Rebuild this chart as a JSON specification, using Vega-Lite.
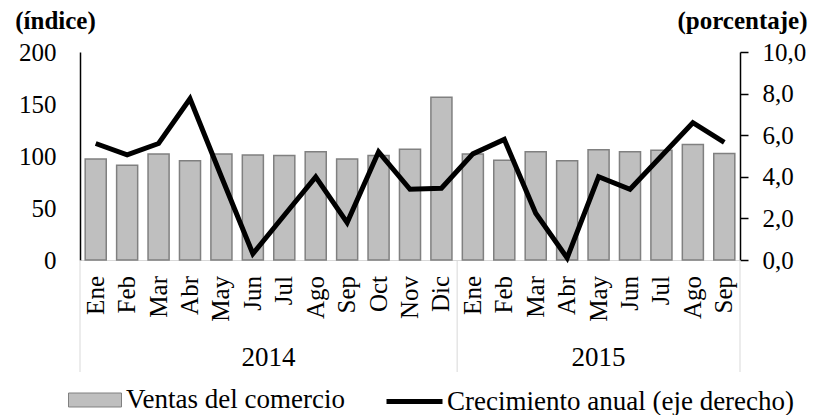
{
  "$schema": "https://vega.github.io/schema/vega-lite/v6.json",
  "background": "white",
  "padding": {"left": 14, "top": 8, "right": 0, "bottom": 0},
  "config": {
    "font": "Liberation Serif",
    "view": {"stroke": null},
    "axis": {"grid": false, "labelFont": "Liberation Serif", "titleFont": "Liberation Serif", "labelColor": "#000000", "titleColor": "#000000"},
    "legend": {"labelFont": "Liberation Serif", "labelColor": "#000000", "labelLimit": 0},
    "text": {"font": "Liberation Serif", "color": "#000000"}
  },
  "datasets": {
    "meses": [
      {"clave": "2014-01", "mes": "Ene", "anio": "2014", "ventas": 97, "crecimiento": 5.6},
      {"clave": "2014-02", "mes": "Feb", "anio": "2014", "ventas": 91, "crecimiento": 5.05},
      {"clave": "2014-03", "mes": "Mar", "anio": "2014", "ventas": 102, "crecimiento": 5.6},
      {"clave": "2014-04", "mes": "Abr", "anio": "2014", "ventas": 95.5, "crecimiento": 7.75},
      {"clave": "2014-05", "mes": "May", "anio": "2014", "ventas": 102, "crecimiento": 4.0},
      {"clave": "2014-06", "mes": "Jun", "anio": "2014", "ventas": 101, "crecimiento": 0.3},
      {"clave": "2014-07", "mes": "Jul", "anio": "2014", "ventas": 100.5, "crecimiento": 2.15},
      {"clave": "2014-08", "mes": "Ago", "anio": "2014", "ventas": 104, "crecimiento": 4.0},
      {"clave": "2014-09", "mes": "Sep", "anio": "2014", "ventas": 97, "crecimiento": 1.8},
      {"clave": "2014-10", "mes": "Oct", "anio": "2014", "ventas": 100.5, "crecimiento": 5.2},
      {"clave": "2014-11", "mes": "Nov", "anio": "2014", "ventas": 106.5, "crecimiento": 3.4},
      {"clave": "2014-12", "mes": "Dic", "anio": "2014", "ventas": 156.5, "crecimiento": 3.45},
      {"clave": "2015-01", "mes": "Ene", "anio": "2015", "ventas": 102, "crecimiento": 5.1},
      {"clave": "2015-02", "mes": "Feb", "anio": "2015", "ventas": 96, "crecimiento": 5.8},
      {"clave": "2015-03", "mes": "Mar", "anio": "2015", "ventas": 104, "crecimiento": 2.25},
      {"clave": "2015-04", "mes": "Abr", "anio": "2015", "ventas": 95.5, "crecimiento": 0.1},
      {"clave": "2015-05", "mes": "May", "anio": "2015", "ventas": 106, "crecimiento": 4.0},
      {"clave": "2015-06", "mes": "Jun", "anio": "2015", "ventas": 104, "crecimiento": 3.4},
      {"clave": "2015-07", "mes": "Jul", "anio": "2015", "ventas": 105.5, "crecimiento": 5.0},
      {"clave": "2015-08", "mes": "Ago", "anio": "2015", "ventas": 111, "crecimiento": 6.6},
      {"clave": "2015-09", "mes": "Sep", "anio": "2015", "ventas": 102.5, "crecimiento": 5.65}
    ]
  },
  "spacing": 0,
  "bounds": "flush",
  "resolve": {"scale": {"x": "independent"}},
  "vconcat": [
    {
      "width": 660,
      "height": 208,
      "data": {"name": "meses"},
      "encoding": {
        "x": {
          "field": "clave", "type": "ordinal",
          "scale": {"paddingInner": 0.33, "paddingOuter": 0.165},
          "axis": {"labels": false, "ticks": false, "title": null, "domainColor": "#d9d9d9", "domainWidth": 1}
        }
      },
      "layer": [
        {
          "mark": {"type": "bar", "stroke": "#808080", "strokeWidth": 1.5},
          "encoding": {
            "y": {
              "field": "ventas", "type": "quantitative",
              "scale": {"domain": [0, 200], "nice": false},
              "axis": {
                "title": "(índice)", "titleAngle": 0, "titleX": -25, "titleY": -24,
                "titleAlign": "center", "titleBaseline": "alphabetic",
                "titleFontWeight": "bold", "titleFontSize": 25,
                "values": [0, 50, 100, 150, 200], "ticks": false, "labelPadding": 24,
                "labelFontSize": 25, "domainColor": "#000000", "domainWidth": 1.5
              }
            },
            "fill": {
              "datum": "Ventas del comercio",
              "scale": {"range": ["#bfbfbf"]},
              "legend": {
                "orient": "none", "legendX": -12, "legendY": 321, "title": null,
                "symbolType": "M-1,-0.264H1V0.264H-1Z", "symbolSize": 2809,
                "symbolStrokeColor": "#808080", "symbolStrokeWidth": 1,
                "labelFont": "Liberation Serif", "labelFontSize": 27, "labelOffset": 4, "labelLimit": 0
              }
            }
          }
        },
        {
          "mark": {"type": "line", "strokeWidth": 5, "strokeJoin": "miter"},
          "encoding": {
            "y": {
              "field": "crecimiento", "type": "quantitative",
              "scale": {"domain": [0, 10], "nice": false},
              "axis": {
                "orient": "right",
                "title": "(porcentaje)", "titleAngle": 0, "titleX": 2, "titleY": -24,
                "titleAlign": "center", "titleBaseline": "alphabetic",
                "titleFontWeight": "bold", "titleFontSize": 25,
                "values": [0, 2, 4, 6, 8, 10],
                "labelExpr": "replace(format(datum.value, '.1f'), '.', ',')",
                "tickSize": 8, "tickWidth": 1.5, "tickColor": "#000000",
                "labelPadding": 14, "labelFontSize": 25,
                "domainColor": "#000000", "domainWidth": 1.5
              }
            },
            "stroke": {
              "datum": "Crecimiento anual (eje derecho)",
              "scale": {"range": ["#000000"]},
              "legend": {
                "orient": "none", "legendX": 304, "legendY": 319, "title": null,
                "symbolType": "stroke", "symbolSize": 3136, "symbolStrokeWidth": 5,
                "labelFont": "Liberation Serif", "labelFontSize": 27, "labelOffset": 2, "labelLimit": 0
              }
            }
          }
        }
      ],
      "resolve": {"scale": {"y": "independent"}}
    },
    {
      "width": 660,
      "height": 112,
      "encoding": {
        "x": {
          "field": "clave", "type": "ordinal",
          "scale": {"paddingInner": 0, "paddingOuter": 0},
          "axis": null
        }
      },
      "layer": [
        {
          "data": {"name": "meses"},
          "mark": {"type": "text", "angle": 270, "align": "right", "baseline": "middle", "fontSize": 25, "dx": -16},
          "encoding": {
            "text": {"field": "mes"},
            "y": {"datum": 1, "type": "quantitative", "scale": {"domain": [0, 1]}, "axis": null}
          }
        },
        {
          "data": {"values": [{"clave": "2014-01"}, {"clave": "2015-01"}]},
          "mark": {"type": "rule", "color": "#d9d9d9", "strokeWidth": 1},
          "encoding": {"x": {"field": "clave", "type": "ordinal", "bandPosition": 0}}
        },
        {
          "data": {"values": [{"clave": "2015-09"}]},
          "mark": {"type": "rule", "color": "#d9d9d9", "strokeWidth": 1},
          "encoding": {"x": {"field": "clave", "type": "ordinal", "bandPosition": 1}}
        },
        {
          "data": {"values": [{"clave": "2014-07", "anio": "2014"}]},
          "mark": {"type": "text", "align": "center", "baseline": "alphabetic", "fontSize": 27, "dy": -6},
          "encoding": {
            "x": {"field": "clave", "type": "ordinal", "bandPosition": 0},
            "text": {"field": "anio"},
            "y": {"datum": 0, "type": "quantitative", "scale": {"domain": [0, 1]}, "axis": null}
          }
        },
        {
          "data": {"values": [{"clave": "2015-05", "anio": "2015"}]},
          "mark": {"type": "text", "align": "center", "baseline": "alphabetic", "fontSize": 27, "dy": -6},
          "encoding": {
            "text": {"field": "anio"},
            "y": {"datum": 0, "type": "quantitative", "scale": {"domain": [0, 1]}, "axis": null}
          }
        }
      ]
    }
  ]
}
